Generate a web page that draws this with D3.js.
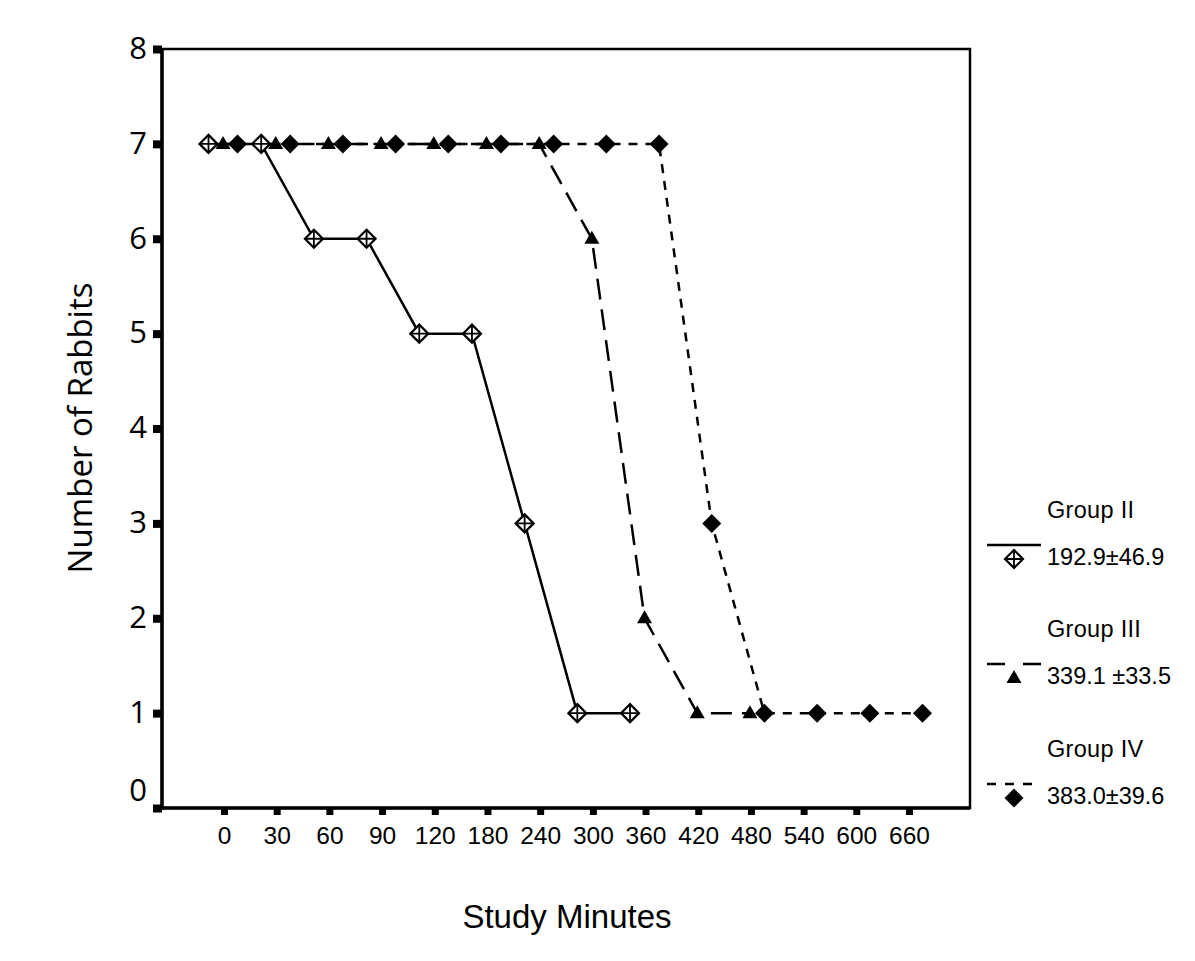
<!DOCTYPE html>
<html>
<head>
<meta charset="utf-8">
<script src="https://cdn.jsdelivr.net/npm/d3@7"></script>
<style>
  html, body { margin: 0; padding: 0; background: #fff; }
  svg { display: block; }
</style>
</head>
<body>
<svg id="chart" width="1195" height="961"></svg>
<script>
// ---- data ----
const minutes = ["0","30","60","90","120","180","240","300","360","420","480","540","600","660"];
const yTicks = [0,1,2,3,4,5,6,7,8];
const seriesNames = ["Group II","Group III","Group IV"];
const seriesStats = ["192.9\u00B146.9","339.1 \u00B133.5","383.0\u00B139.6"];
const groupII  = [7,7,6,6,5,5,3,1,1];
const groupIII = [7,7,7,7,7,7,7,6,2,1,1];
const groupIV  = [7,7,7,7,7,7,7,7,7,3,1,1,1,1];
const seriesValues = [groupII, groupIII, groupIV];

// ---- layout / style ----
const plot = {left: 162, right: 970, top: 49, bottom: 808};
const dash = ["none", "21,10", "9,8"];
const legendDash = ["none", "18,18", "9,9"];
const sansFont = "'Liberation Sans', Arimo, Arial, sans-serif";
const svg = d3.select("#chart");

const x = d3.scalePoint().domain(minutes).range([224, 909]);
const dodge = d3.scalePoint().domain(seriesNames).range([-15.5, 13.5]);
const y = d3.scaleLinear().domain([0, 8]).range([plot.bottom, plot.top]);

// frame
svg.append("rect")
  .attr("x", plot.left).attr("y", plot.top)
  .attr("width", plot.right - plot.left).attr("height", plot.bottom - plot.top)
  .attr("fill", "none").attr("stroke", "#000").attr("stroke-width", 2.5);
svg.append("line").attr("x1", plot.left).attr("x2", plot.left)
  .attr("y1", plot.top).attr("y2", plot.bottom + 1.5)
  .attr("stroke", "#000").attr("stroke-width", 3.5);
svg.append("line").attr("x1", plot.left).attr("x2", plot.right)
  .attr("y1", plot.bottom).attr("y2", plot.bottom)
  .attr("stroke", "#000").attr("stroke-width", 3.5);

// y axis
const yAxis = svg.append("g")
  .attr("transform", `translate(${plot.left},0)`)
  .call(d3.axisLeft(y).tickValues(yTicks).tickFormat(d3.format("d")).tickSize(9).tickPadding(6));
yAxis.select(".domain").remove();
yAxis.selectAll(".tick line").attr("stroke", "#000").attr("stroke-width", 8);
yAxis.selectAll(".tick text")
  .attr("font-family", "'Open Sans', sans-serif").attr("font-size", 31).attr("fill", "#000")
  .attr("dy", d => d === 0 ? "-0.25em" : "0.3em");

// x axis
const xAxis = svg.append("g")
  .attr("transform", `translate(0,${plot.bottom + 1})`)
  .call(d3.axisBottom(x).tickSize(6).tickPadding(12));
xAxis.select(".domain").remove();
xAxis.selectAll(".tick line").attr("stroke", "#000").attr("stroke-width", 7);
xAxis.selectAll(".tick text")
  .attr("font-family", sansFont).attr("font-size", 24.5).attr("fill", "#000");

// axis titles
svg.append("text")
  .attr("transform", `translate(92,428) rotate(-90)`)
  .attr("text-anchor", "middle")
  .attr("font-family", "'Open Sans', sans-serif").attr("font-size", 33)
  .text("Number of Rabbits");
svg.append("text")
  .attr("x", 567).attr("y", 928).attr("text-anchor", "middle")
  .attr("font-family", sansFont).attr("font-size", 33)
  .text("Study Minutes");

// marker drawing
function drawMarker(g, i, cx, cy) {
  if (i === 0) {
    const r = 9;
    g.append("path")
      .attr("d", `M${cx},${cy - r}L${cx + r},${cy}L${cx},${cy + r}L${cx - r},${cy}Z`)
      .attr("fill", "#fff").attr("stroke", "#000").attr("stroke-width", 2.2);
    g.append("path")
      .attr("d", `M${cx},${cy - r}V${cy + r}M${cx - r},${cy}H${cx + r}`)
      .attr("stroke", "#000").attr("stroke-width", 1.8);
  } else if (i === 1) {
    g.append("path")
      .attr("d", `M${cx},${cy - 8}L${cx + 7.5},${cy + 5}L${cx - 7.5},${cy + 5}Z`)
      .attr("fill", "#000");
  } else {
    const r = 9.5;
    g.append("path")
      .attr("d", `M${cx},${cy - r}L${cx + r},${cy}L${cx},${cy + r}L${cx - r},${cy}Z`)
      .attr("fill", "#000");
  }
}

// lines
const line = d3.line()
  .x(d => d.px)
  .y(d => y(d.v));
const pts = seriesValues.map((vals, i) =>
  vals.map((v, j) => ({px: x(minutes[j]) + dodge(seriesNames[i]), v})));

pts.forEach((p, i) => {
  svg.append("path")
    .attr("d", line(p))
    .attr("fill", "none").attr("stroke", "#000").attr("stroke-width", 2.5)
    .attr("stroke-dasharray", dash[i]);
});
const mg = svg.append("g");
pts.forEach((p, i) => {
  p.forEach(d => drawMarker(mg, i, d.px, y(d.v)));
});

// legend
const legendTop = [518, 637, 757];
seriesNames.forEach((name, i) => {
  const ty = legendTop[i];
  svg.append("text").attr("x", 1047).attr("y", ty)
    .attr("font-family", sansFont).attr("font-size", 23.5)
    .attr("letter-spacing", 0.3)
    .text(name);
  svg.append("line").attr("x1", 987).attr("x2", 1041)
    .attr("y1", ty + 27).attr("y2", ty + 27)
    .attr("stroke", "#000").attr("stroke-width", 2.5)
    .attr("stroke-dasharray", legendDash[i]);
  drawMarker(svg, i, 1014, ty + 41);
  svg.append("text").attr("x", 1047).attr("y", ty + 47)
    .attr("font-family", sansFont).attr("font-size", 23.5)
    .text(seriesStats[i]);
});
</script>
</body>
</html>
